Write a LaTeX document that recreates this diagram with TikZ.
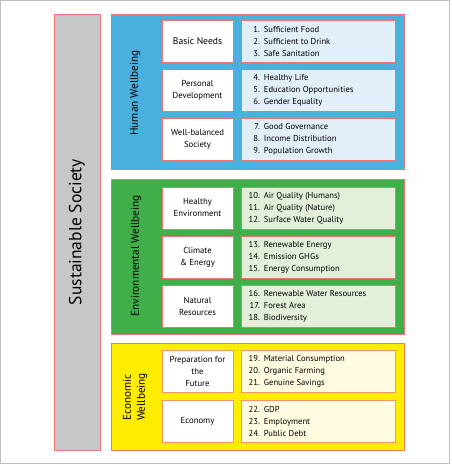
\documentclass[tikz,border=0pt]{standalone}
\usepackage{fontspec}
\setmainfont{PT Sans}
\usepackage{tikz}

\definecolor{framegrey}{RGB}{190,190,190}
\definecolor{bargrey}{RGB}{198,199,201}
\definecolor{edgered}{RGB}{240,115,115}
\definecolor{edgeorange}{RGB}{242,150,105}
\definecolor{humanblue}{RGB}{74,176,222}
\definecolor{humanlight}{RGB}{225,239,249}
\definecolor{envgreen}{RGB}{64,174,73}
\definecolor{envlight}{RGB}{226,240,218}
\definecolor{ecoyellow}{RGB}{255,237,0}
\definecolor{ecolight}{RGB}{255,252,225}

% one indicator line: number right aligned, then its name
\newcommand{\itm}[2]{\makebox[12pt][r]{#1.}\hspace{4pt}#2}

\begin{document}
\begin{tikzpicture}[x=1pt,y=-1pt,
  groupbox/.style={draw=edgered, line width=0.8pt},
  catbox/.style={draw=edgered, fill=white, line width=0.6pt, minimum width=71pt,
    minimum height=42pt, inner sep=0pt, align=center, font=\fontsize{8.7}{12}\selectfont},
  listbox/.style={draw=edgered, line width=0.6pt, minimum width=154pt, minimum height=42pt,
    inner sep=0pt},
  listtext/.style={anchor=west, inner sep=0pt, align=left, font=\fontsize{8.6}{12}\selectfont},
  grouplabel/.style={rotate=90, align=center, font=\fontsize{11.2}{14}\selectfont}]

 \useasboundingbox (0,0) rectangle (451,465);
 \draw[framegrey] (0.5,0.5) rectangle (449.5,463.5);

 % the whole society
 \draw[groupbox, fill=bargrey] (54,14) rectangle (100,450);
 \node[rotate=90, font=\fontsize{17.5}{20}\selectfont] (soc) at (77,232) {Sustainable Society};

 % Human wellbeing
 \draw[groupbox, fill=humanblue] (111,14) rectangle (404,169);
 \node[grouplabel] (hw) at (135,93) {Human Wellbeing};
 \node[catbox, font=\fontsize{9.6}{12}\selectfont] (bn) at (197.5,41) {Basic Needs};
 \node[listbox, fill=humanlight] (bnl) at (318,41) {};
 \node[listtext] at ([xshift=7pt]bnl.west) {\itm{1}{Sufficient Food}\\ \itm{2}{Sufficient to Drink}\\ \itm{3}{Safe Sanitation}};
 \node[catbox] (pd) at (197.5,90) {Personal\\ Development};
 \node[listbox, fill=humanlight] (pdl) at (318,90) {};
 \node[listtext] at ([xshift=7pt]pdl.west) {\itm{4}{Healthy Life}\\ \itm{5}{Education Opportunities}\\ \itm{6}{Gender Equality}};
 \node[catbox] (ws) at (197.5,139) {Well-balanced\\ Society};
 \node[listbox, fill=humanlight] (wsl) at (318,139) {};
 \node[listtext] at ([xshift=7pt]wsl.west) {\itm{7}{Good Governance}\\ \itm{8}{Income Distribution}\\ \itm{9}{Population Growth}};

 % Environmental wellbeing
 \draw[groupbox, fill=envgreen] (111,179) rectangle (404,334);
 \node[grouplabel] (ew) at (136,256) {Environmental Wellbeing};
 \node[catbox] (he) at (197.5,208) {Healthy\\ Environment};
 \node[listbox, fill=envlight] (hel) at (318,208) {};
 \node[listtext] at ([xshift=7pt]hel.west) {\itm{10}{Air Quality (Humans)}\\ \itm{11}{Air Quality (Nature)}\\ \itm{12}{Surface Water Quality}};
 \node[catbox] (ce) at (197.5,257.5) {Climate\\ \& Energy};
 \node[listbox, fill=envlight] (cel) at (318,257.5) {};
 \node[listtext] at ([xshift=7pt]cel.west) {\itm{13}{Renewable Energy}\\ \itm{14}{Emission GHGs}\\ \itm{15}{Energy Consumption}};
 \node[catbox] (nr) at (197.5,306.5) {Natural\\ Resources};
 \node[listbox, fill=envlight] (nrl) at (318,306.5) {};
 \node[listtext] at ([xshift=7pt]nrl.west) {\itm{16}{Renewable Water Resources}\\ \itm{17}{Forest Area}\\ \itm{18}{Biodiversity}};

 % Economic wellbeing
 \draw[groupbox, draw=edgeorange!80!red, fill=ecoyellow] (111,343) rectangle (404,450);
 \node[grouplabel] (cw) at (135,397) {Economic\\ Wellbeing};
 \node[catbox, draw=edgeorange] (pf) at (197.5,371) {Preparation for\\ the\\ Future};
 \node[listbox, draw=edgeorange, fill=ecolight] (pfl) at (318,371) {};
 \node[listtext] at ([xshift=7pt]pfl.west) {\itm{19}{Material Consumption}\\ \itm{20}{Organic Farming}\\ \itm{21}{Genuine Savings}};
 \node[catbox, draw=edgeorange] (ec) at (197.5,421.5) {Economy};
 \node[listbox, draw=edgeorange, fill=ecolight] (ecl) at (318,421.5) {};
 \node[listtext] at ([xshift=7pt]ecl.west) {\itm{22}{GDP}\\ \itm{23}{Employment}\\ \itm{24}{Public Debt}};

\end{tikzpicture}
\end{document}
